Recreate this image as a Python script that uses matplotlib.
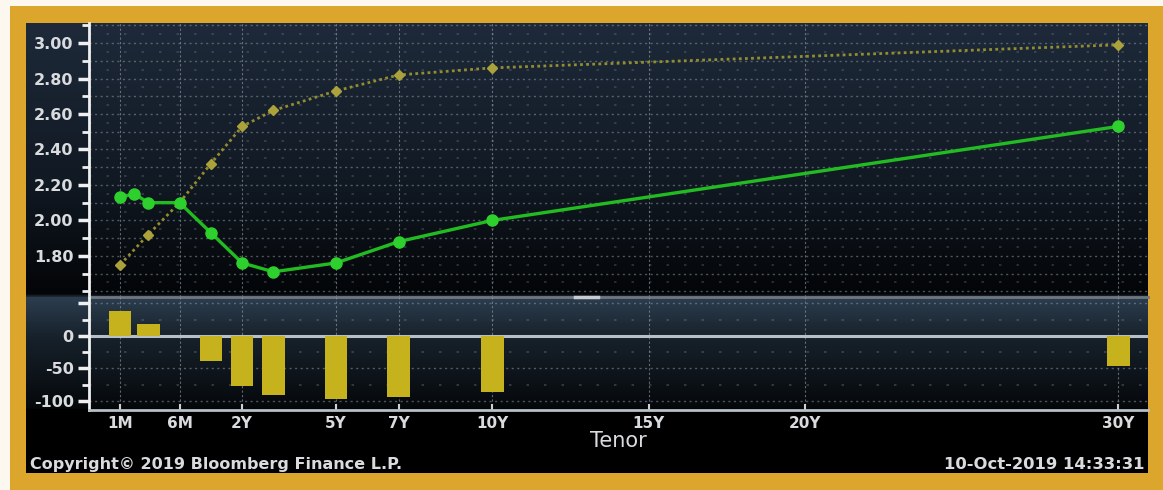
import matplotlib.pyplot as plt
import numpy as np
from matplotlib.colors import LinearSegmentedColormap

# tenors in years
tenor_now = [1/12, 2/12, 3/12, 0.5, 1, 2, 3, 5, 7, 10, 30]
yield_now = [2.13, 2.15, 2.10, 2.10, 1.93, 1.76, 1.71, 1.76, 1.88, 2.00, 2.53]

tenor_ago = [1/12, 3/12, 0.5, 1, 2, 3, 5, 7, 10, 30]
yield_ago = [1.75, 1.92, 2.10, 2.32, 2.53, 2.62, 2.73, 2.82, 2.86, 2.99]

# change in bp (current - year ago)
bar_tenor = [1/12, 3/12, 1, 2, 3, 5, 7, 10, 30]
bar_change = [38, 18, -39, -77, -91, -97, -94, -86, -46]

tick_tenor = [1/12, 0.5, 2, 5, 7, 10, 15, 20, 30]
tick_labels = ["1M", "6M", "2Y", "5Y", "7Y", "10Y", "15Y", "20Y", "30Y"]

# Bloomberg spaces the short end on its own, long end linear in years
knot_yrs = [-5, 0, 1/12, 2/12, 3/12, 0.5, 1, 2, 60]
knot_pos = [-8, -3.0, -1.9, -1.45, -1.0, 0.0, 1.0, 2.0, 60]

def fwd(x):
    return np.interp(x, knot_yrs, knot_pos)

def inv(x):
    return np.interp(x, knot_pos, knot_yrs)

W, H = 1163, 490
GOLD = "#DCA52B"
TXT = "#d9dbde"

fig = plt.figure(figsize=(W / 100, H / 100), dpi=100)
fig.patch.set_facecolor("#fcf8f0")

def box(x0, y0, x1, y1):
    # pixel box (top-left origin) -> figure fraction rect
    return [x0 / W, 1 - y1 / H, (x1 - x0) / W, (y1 - y0) / H]

# gold frame
gold = fig.add_axes(box(10, 6, W, H))
gold.set_facecolor(GOLD)
gold.set_xticks([]); gold.set_yticks([])
for s in gold.spines.values():
    s.set_visible(False)

# dark inner panel with vertical gradient
bg = fig.add_axes(box(26, 23, 1148, 473))
bg.set_axis_off()
stops = [(0.0, "#1e2a3a"), (0.35, "#111923"), (0.607, "#030507"),
         (0.609, "#2c3e4f"), (0.70, "#17212b"), (0.858, "#05080b"),
         (0.86, "#000000"), (1.0, "#000000")]
cmap = LinearSegmentedColormap.from_list("bb", stops)
bg.imshow(np.linspace(0, 1, 450).reshape(-1, 1), aspect="auto", cmap=cmap,
          extent=[0, 1, 0, 1], origin="upper")
bg.set_xlim(0, 1); bg.set_ylim(0, 1)

ax = fig.add_axes(box(89, 23, 1148, 297))
ax2 = fig.add_axes(box(89, 297, 1148, 410))

for a in (ax, ax2):
    a.set_facecolor("none")
    a.set_xscale("function", functions=(fwd, inv))
    a.set_xlim(0.008, 30.95)
    for s in ("top", "right"):
        a.spines[s].set_visible(False)
    a.spines["left"].set_color("#f0f0f0")
    a.spines["left"].set_linewidth(2)
    a.set_xticks(tick_tenor)
    a.set_xticks([], minor=True)
    for t in tick_tenor:
        a.axvline(t, color="#9aa3ad", lw=0.8, ls=(0, (2, 2)), alpha=0.6, zorder=1)
    a.tick_params(axis="y", which="major", direction="out", length=8, width=2.5,
                  color="#f0f0f0", labelcolor=TXT, labelsize=11.5, pad=3)
    a.tick_params(axis="y", which="minor", direction="out", length=5, width=2,
                  color="#f0f0f0")

# top panel: yield curves
ax.set_ylim(1.568, 3.113)
ax.set_yticks([1.80, 2.00, 2.20, 2.40, 2.60, 2.80, 3.00])
ax.set_yticklabels(["1.80", "2.00", "2.20", "2.40", "2.60", "2.80", "3.00"],
                   fontweight="bold")
ax.set_yticks(np.arange(1.6, 3.11, 0.1), minor=True)
for v in np.arange(1.6, 3.11, 0.1):
    ax.axhline(v, color="#8d96a0", lw=1.0, ls=(0, (1.5, 2.5)), alpha=0.55, zorder=1)
for v in np.arange(1.65, 3.11, 0.1):
    ax.axhline(v, color="#8d96a0", lw=1.2, ls=(0, (1.5, 9)), alpha=0.3, zorder=1)
ax.spines["bottom"].set_color("#6f7880")
ax.spines["bottom"].set_linewidth(2)
ax.tick_params(axis="x", length=0, labelbottom=False)

ax.plot(tenor_ago, yield_ago, color="#938d30", lw=2, ls=(0, (1, 1.2)),
        marker="D", ms=5, mfc="#aba23c", mec="#aba23c", zorder=3)
ax.plot(tenor_now, yield_now, color="#22bb22", lw=2.4,
        marker="o", ms=8, mfc="#2ed02e", mec="#2ed02e", zorder=4)

# panel divider handle
fig.add_artist(plt.Line2D([575 / W, 598 / W], [1 - 297 / H] * 2,
                          color="#c8ccd0", lw=2.5))

# bottom panel: change in bp
ax2.set_ylim(-114, 60)
ax2.set_yticks([-100, -50, 0, 50])
ax2.set_yticklabels(["-100", "-50", "0", ""], fontweight="bold")
ax2.set_yticks([-75, -25, 25], minor=True)
for v in [-100, -50, 50]:
    ax2.axhline(v, color="#8d96a0", lw=1.0, ls=(0, (1.5, 2.5)), alpha=0.55, zorder=1)
for v in [-75, -25, 25]:
    ax2.axhline(v, color="#8d96a0", lw=1.2, ls=(0, (1.5, 9)), alpha=0.35, zorder=1)
ax2.axhline(0, color="#b8bfc6", lw=2.2, zorder=2)

# constant-pixel bar width on the custom scale
half = 0.36
bar_left = [inv(fwd(t) - half) for t in bar_tenor]
bar_w = [inv(fwd(t) + half) - inv(fwd(t) - half) for t in bar_tenor]
ax2.bar(bar_left, bar_change, width=bar_w, align="edge",
        color="#c6b21c", zorder=3)

ax2.spines["bottom"].set_color("#b8bfc6")
ax2.spines["bottom"].set_linewidth(2)
ax2.tick_params(axis="x", direction="in", length=4, width=1.5, color="#d0d0d0",
                labelcolor=TXT, labelsize=11, pad=4)
ax2.set_xticklabels(tick_labels, fontweight="bold")
ax2.set_xlabel("Tenor", color=TXT, fontsize=15, labelpad=0)

fig.text(30 / W, 1 - 464 / H, "Copyright\u00a9 2019 Bloomberg Finance L.P.",
         color=TXT, fontsize=11.5, fontweight="bold", va="center", ha="left")
fig.text(1145 / W, 1 - 464 / H, "10-Oct-2019 14:33:31",
         color=TXT, fontsize=11.8, fontweight="bold", va="center", ha="right")

fig.savefig("out.png", dpi=100, facecolor=fig.get_facecolor())
